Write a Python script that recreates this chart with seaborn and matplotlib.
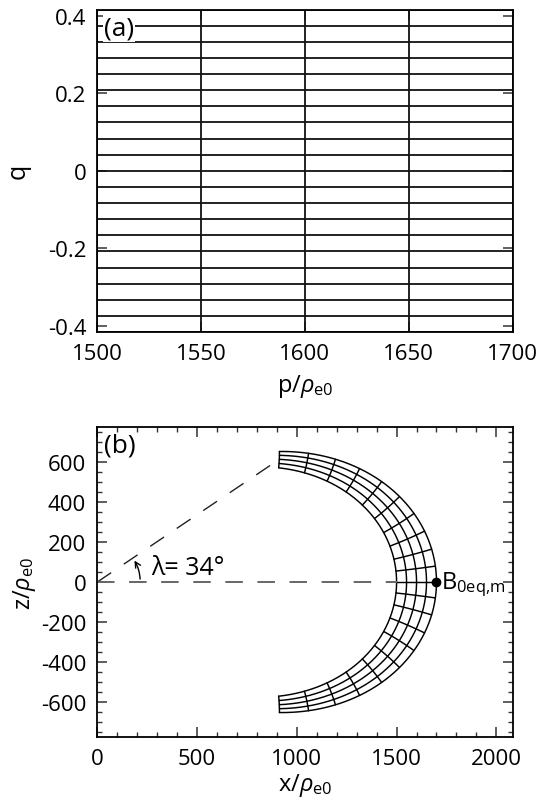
import numpy as np
import pandas as pd
import matplotlib
matplotlib.use("Agg")
import matplotlib.pyplot as plt
import seaborn as sns

# ---------------- data ----------------
# panel (a): grid in dipole coordinates
p_lines = [1500, 1550, 1600, 1650, 1700]
q_lines = [-0.41667, -0.375, -0.33333, -0.29167, -0.25, -0.20833, -0.16667,
           -0.125, -0.08333, -0.04167, 0.0, 0.04167, 0.08333, 0.125, 0.16667,
           0.20833, 0.25, 0.29167, 0.33333, 0.375, 0.41667]
p_ticks = [1500, 1550, 1600, 1650, 1700]
q_ticks = [-0.4, -0.2, 0.0, 0.2, 0.4]
q_ticklabels = ["-0.4", "-0.2", "0", "0.2", "0.4"]

# panel (b): field lines (equatorial distance) and latitudes (deg) of the
# constant-q cross lines where they meet the innermost field line
fieldline_L = [1500, 1550, 1600, 1650, 1700]
cross_lat_inner = [0.0, 2.1, 4.4, 7.0, 9.8, 12.9, 16.2, 19.9, 23.7, 27.8, 32.2]
lambda_deg = 34
x_ticks_b = [0, 500, 1000, 1500, 2000]
z_ticks_b = [-600, -400, -200, 0, 200, 400, 600]

# ---------------- style ----------------
sns.set_style("ticks")
plt.rcParams["font.family"] = ["Open Sans", "DejaVu Sans"]
plt.rcParams["axes.unicode_minus"] = False
plt.rcParams["mathtext.fontset"] = "custom"
plt.rcParams["mathtext.rm"] = "Open Sans"
plt.rcParams["mathtext.it"] = "Open Sans:italic"
plt.rcParams["mathtext.bf"] = "Open Sans:bold"
for key in ("text.color", "axes.labelcolor", "xtick.color", "ytick.color"):
    plt.rcParams[key] = "black"

fig = plt.figure(figsize=(5.37, 8.03), dpi=100)
ax1 = fig.add_axes([0.1812, 0.5853, 0.7732, 0.4014])
ax2 = fig.add_axes([0.1812, 0.0809, 0.7732, 0.3861])

LW = 1.3
TICKFS = 16

# ---------------- panel (a) ----------------
rows = []
for i, q in enumerate(q_lines):
    rows.append(dict(x=p_lines[0], y=q, line=f"q{i}"))
    rows.append(dict(x=p_lines[-1], y=q, line=f"q{i}"))
for j, p in enumerate(p_lines):
    rows.append(dict(x=p, y=q_lines[0], line=f"p{j}"))
    rows.append(dict(x=p, y=q_lines[-1], line=f"p{j}"))
dfa = pd.DataFrame(rows)
sns.lineplot(data=dfa, x="x", y="y", units="line", estimator=None, sort=False,
             color="#111111", lw=LW, ax=ax1, legend=False)
ax1.set_xlim(p_lines[0], p_lines[-1])
ax1.set_ylim(q_lines[0], q_lines[-1])
ax1.set_xticks(p_ticks)
ax1.set_xticklabels([str(v) for v in p_ticks])
ax1.set_yticks(q_ticks)
ax1.set_yticklabels(q_ticklabels)
ax1.set_xlabel(r"p/$\rho_{\mathrm{e0}}$", fontsize=17, labelpad=6)
ax1.set_ylabel("q", fontsize=18, labelpad=12)
ax1.text(0.016, 0.982, "(a)", transform=ax1.transAxes, ha="left", va="top",
         fontsize=19, zorder=10,
         bbox=dict(facecolor="white", edgecolor="none", pad=1.0))

# ---------------- panel (b) ----------------
def fq(lam):
    return np.sin(lam) / np.cos(lam) ** 4

lam_tab = np.radians(np.linspace(-70, 70, 40001))
f_tab = fq(lam_tab)

def inv(fv):
    return np.interp(fv, f_tab, lam_tab)

L0 = fieldline_L[0]
lat_all = sorted(set([-v for v in cross_lat_inner] + cross_lat_inner))
consts = [fq(np.radians(v)) / L0 ** 2 for v in lat_all]
c_end = fq(np.radians(cross_lat_inner[-1])) / L0 ** 2

rows = []
for j, L in enumerate(fieldline_L):
    le = inv(c_end * L ** 2)
    lam = np.linspace(-le, le, 400)
    for xx, zz in zip(L * np.cos(lam) ** 3, L * np.cos(lam) ** 2 * np.sin(lam)):
        rows.append(dict(x=xx, z=zz, line=f"L{j}"))
for k, c in enumerate(consts):
    pp = np.linspace(fieldline_L[0], fieldline_L[-1], 40)
    lam = inv(c * pp ** 2)
    for xx, zz in zip(pp * np.cos(lam) ** 3, pp * np.cos(lam) ** 2 * np.sin(lam)):
        rows.append(dict(x=xx, z=zz, line=f"c{k}"))
dfb = pd.DataFrame(rows)
sns.lineplot(data=dfb, x="x", y="z", units="line", estimator=None, sort=False,
             color="black", lw=1.05, ax=ax2, legend=False)

# reference lines
lam0 = np.radians(lambda_deg)
r_end = 1080
ax2.plot([0, r_end * np.cos(lam0)], [0, r_end * np.sin(lam0)], color="#222222",
         lw=1.0, ls=(0, (12, 11)))
ax2.plot([0, fieldline_L[0]], [0, 0], color="#666666", lw=1.4, ls=(0, (9, 7.5)))
ax2.plot([fieldline_L[-1]], [0], "o", color="black", ms=6)
ax2.text(fieldline_L[-1] + 22, -8, r"B$_{\mathrm{0eq{,}m}}$", fontsize=17,
         ha="left", va="center")

rA = 215
ax2.annotate("", xy=(rA * np.cos(np.radians(30)), rA * np.sin(np.radians(30))),
             xytext=(rA * np.cos(np.radians(4)), rA * np.sin(np.radians(4))),
             arrowprops=dict(arrowstyle="->", connectionstyle="arc3,rad=0.12",
                             lw=1.0, color="black", shrinkA=0, shrinkB=0,
                             mutation_scale=10))
ax2.text(272, 74, f"λ= {lambda_deg}°", fontsize=18, ha="left", va="center")

ax2.set_xlim(0, 2081)
ax2.set_ylim(-777, 777)
ax2.set_xticks(x_ticks_b)
ax2.set_xticklabels([str(v) for v in x_ticks_b])
ax2.set_yticks(z_ticks_b)
ax2.set_yticklabels([str(v) for v in z_ticks_b])
ax2.set_xticks(np.arange(0, 2081, 100), minor=True)
ax2.set_yticks(np.arange(-750, 751, 50), minor=True)
ax2.set_xlabel(r"x/$\rho_{\mathrm{e0}}$", fontsize=17, labelpad=1)
ax2.set_ylabel(r"z/$\rho_{\mathrm{e0}}$", fontsize=17, labelpad=2)
ax2.text(0.016, 0.982, "(b)", transform=ax2.transAxes, ha="left", va="top",
         fontsize=19, zorder=10)

for ax in (ax1, ax2):
    ax.tick_params(which="major", direction="in", top=True, right=True,
                   length=7, width=1.1, labelsize=TICKFS, pad=8, color="#333333")
    ax.tick_params(which="minor", direction="in", top=True, right=True,
                   length=3.5, width=1.0, color="#333333")
    for s in ax.spines.values():
        s.set_linewidth(1.3)
        s.set_color("black")

fig.savefig("out.png", dpi=100)
